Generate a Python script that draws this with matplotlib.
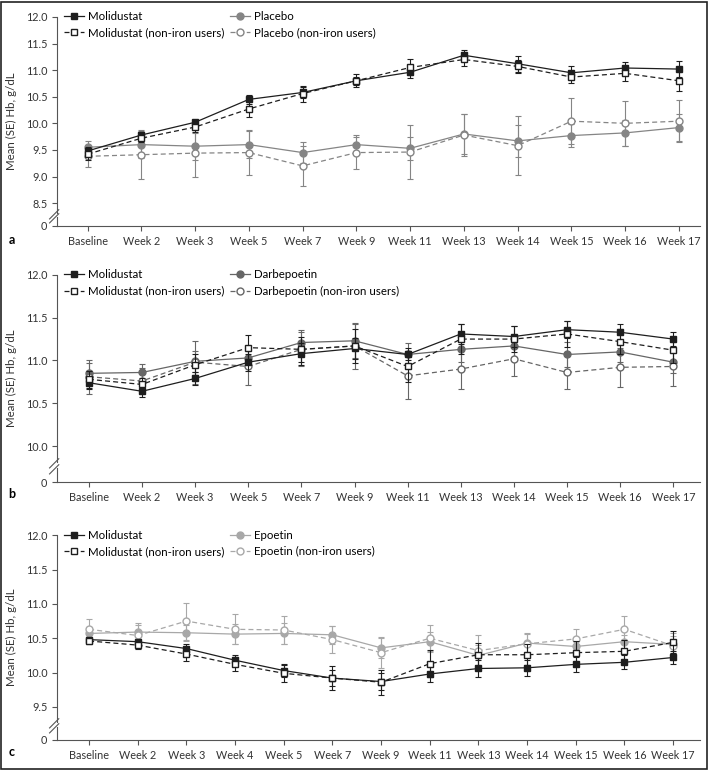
import numpy as np
import matplotlib
matplotlib.use("Agg")
import matplotlib.pyplot as plt
import matplotlib.transforms as mtransforms
from matplotlib.patches import Rectangle
from matplotlib.lines import Line2D

plt.rcParams['font.family'] = ['Lato', 'DejaVu Sans']

# ---- data -------------------------------------------------------------
weeks_ab = ["Baseline", "Week 2", "Week 3", "Week 5", "Week 7", "Week 9", "Week 11",
            "Week 13", "Week 14", "Week 15", "Week 16", "Week 17"]
weeks_c = ["Baseline", "Week 2", "Week 3", "Week 4", "Week 5", "Week 7", "Week 9",
           "Week 11", "Week 13", "Week 14", "Week 15", "Week 16", "Week 17"]

# panel a: molidustat vs placebo
a_moli = [9.48, 9.78, 10.02, 10.45, 10.58, 10.80, 10.96, 11.28, 11.12, 10.95, 11.04, 11.02]
a_moli_se = [0.08, 0.05, 0.05, 0.08, 0.10, 0.08, 0.10, 0.10, 0.15, 0.12, 0.12, 0.15]
a_moli_ni = [9.42, 9.72, 9.93, 10.27, 10.56, 10.80, 11.05, 11.20, 11.07, 10.87, 10.94, 10.80]
a_moli_ni_se = [0.10, 0.08, 0.10, 0.15, 0.15, 0.12, 0.15, 0.12, 0.12, 0.12, 0.14, 0.20]
a_plac = [9.55, 9.60, 9.57, 9.60, 9.45, 9.60, 9.53, 9.80, 9.67, 9.77, 9.82, 9.92]
a_plac_se = [0.12, 0.25, 0.25, 0.25, 0.20, 0.18, 0.22, 0.38, 0.30, 0.22, 0.25, 0.25]
a_plac_ni = [9.38, 9.41, 9.44, 9.45, 9.20, 9.45, 9.46, 9.78, 9.58, 10.04, 10.00, 10.04]
a_plac_ni_se = [0.20, 0.46, 0.45, 0.42, 0.38, 0.30, 0.50, 0.40, 0.55, 0.43, 0.42, 0.40]

# panel b: molidustat vs darbepoetin
b_moli = [10.74, 10.64, 10.79, 10.98, 11.08, 11.14, 11.07, 11.31, 11.28, 11.36, 11.33, 11.25]
b_moli_se = [0.07, 0.07, 0.08, 0.10, 0.13, 0.12, 0.07, 0.12, 0.12, 0.10, 0.10, 0.08]
b_moli_ni = [10.78, 10.72, 10.95, 11.15, 11.13, 11.17, 10.93, 11.25, 11.25, 11.31, 11.22, 11.12]
b_moli_ni_se = [0.10, 0.08, 0.12, 0.15, 0.15, 0.20, 0.18, 0.18, 0.15, 0.15, 0.15, 0.15]
b_darb = [10.85, 10.86, 10.99, 11.03, 11.21, 11.23, 11.07, 11.13, 11.17, 11.07, 11.10, 10.98]
b_darb_se = [0.12, 0.10, 0.12, 0.12, 0.15, 0.20, 0.13, 0.15, 0.13, 0.15, 0.12, 0.13]
b_darb_ni = [10.81, 10.76, 10.98, 10.93, 11.13, 11.17, 10.82, 10.90, 11.02, 10.86, 10.92, 10.93]
b_darb_ni_se = [0.20, 0.15, 0.25, 0.22, 0.20, 0.27, 0.27, 0.23, 0.20, 0.19, 0.23, 0.23]

# panel c: molidustat vs epoetin
c_moli = [10.48, 10.45, 10.35, 10.18, 10.03, 9.92, 9.87, 9.98, 10.06, 10.07, 10.12, 10.15, 10.22]
c_moli_se = [0.04, 0.04, 0.06, 0.07, 0.10, 0.12, 0.12, 0.12, 0.12, 0.12, 0.11, 0.10, 0.09]
c_moli_ni = [10.46, 10.40, 10.27, 10.12, 9.99, 9.92, 9.86, 10.13, 10.26, 10.26, 10.29, 10.31, 10.44]
c_moli_ni_se = [0.05, 0.06, 0.10, 0.10, 0.12, 0.18, 0.18, 0.20, 0.17, 0.15, 0.17, 0.17, 0.16]
c_epo = [10.57, 10.59, 10.58, 10.56, 10.57, 10.55, 10.36, 10.45, 10.25, 10.43, 10.38, 10.45, 10.41]
c_epo_se = [0.10, 0.10, 0.12, 0.15, 0.15, 0.13, 0.15, 0.14, 0.15, 0.13, 0.10, 0.10, 0.12]
c_epo_ni = [10.63, 10.54, 10.75, 10.63, 10.62, 10.48, 10.29, 10.50, 10.32, 10.42, 10.49, 10.63, 10.39]
c_epo_ni_se = [0.15, 0.18, 0.27, 0.22, 0.20, 0.20, 0.23, 0.20, 0.22, 0.15, 0.15, 0.20, 0.18]

DARK = "#1e1e1e"
AXC = "#555555"
DASH = (0, (4, 2.5))


def broken_scale(lo, gap):
    def fwd(y):
        y = np.asarray(y, dtype=float)
        return np.where(y >= lo, y, lo - gap + y * gap / lo)

    def inv(p):
        p = np.asarray(p, dtype=float)
        return np.where(p >= lo, p, (p - (lo - gap)) * lo / gap)
    return fwd, inv


def panel(ax, labels, series, comp_name, comp_color, lo, gap, xpad):
    x = np.arange(len(labels))
    moli, moli_se, moli_ni, moli_ni_se, comp, comp_se, comp_ni, comp_ni_se = series
    kw = dict(capsize=2.3, elinewidth=0.8, capthick=0.8, lw=0.9)
    ax.errorbar(x, comp, yerr=comp_se, color=comp_color, marker="o", ms=5,
                mfc=comp_color, mec=comp_color, zorder=2, **kw)
    ax.errorbar(x, comp_ni, yerr=comp_ni_se, color=comp_color, marker="o", ms=5,
                mfc="white", mec=comp_color, ls=DASH, zorder=2, **kw)
    ax.errorbar(x, moli, yerr=moli_se, color=DARK, marker="s", ms=4.3,
                mfc=DARK, mec=DARK, zorder=3, **kw)
    ax.errorbar(x, moli_ni, yerr=moli_ni_se, color=DARK, marker="s", ms=4.3,
                mfc="white", mec=DARK, ls=DASH, zorder=3, **kw)

    fwd, inv = broken_scale(lo, gap)
    ax.set_yscale("function", functions=(fwd, inv))
    ax.set_ylim(0, 12.0)
    ticks = [0] + list(np.arange(lo, 12.01, 0.5))
    ax.set_yticks(ticks)
    ax.set_yticklabels(["0"] + [f"{t:.1f}" for t in ticks[1:]])
    ax.set_xlim(-xpad[0], len(labels) - 1 + xpad[1])
    ax.set_xticks(x)
    ax.set_xticklabels(labels)
    ax.set_ylabel("Mean (SE) Hb, g/dL", fontsize=8.3, color="#333333", labelpad=6)

    for s in ("top", "right"):
        ax.spines[s].set_visible(False)
    for s in ("left", "bottom"):
        ax.spines[s].set_color(AXC)
        ax.spines[s].set_linewidth(0.8)
    ax.tick_params(colors=AXC, labelcolor="#333333", labelsize=7.8, length=3.5, width=0.8)

    # axis break on the y axis
    hi_b, lo_b = lo * 0.55, lo * 0.38
    ax.spines["left"].set_bounds(hi_b, 12.0)
    trans = mtransforms.blended_transform_factory(ax.transAxes, ax.transData)
    ax.plot([0, 0], [0, lo_b], transform=trans, color=AXC, lw=0.8, clip_on=False)
    for yb in (hi_b, lo_b):
        ax.plot([0], [yb], transform=trans, marker=[(-1, -0.7), (0.2, 0.5)], ms=12,
                mfc="none", mec=AXC, mew=0.8, clip_on=False)

    # legend handles without error-bar caps
    handles = [
        Line2D([], [], color=DARK, marker="s", ms=4.3, mfc=DARK, mec=DARK, lw=0.9),
        Line2D([], [], color=DARK, marker="s", ms=4.3, mfc="white", mec=DARK, lw=0.9, ls=DASH),
        Line2D([], [], color=comp_color, marker="o", ms=5, mfc=comp_color, mec=comp_color, lw=0.9),
        Line2D([], [], color=comp_color, marker="o", ms=5, mfc="white", mec=comp_color, lw=0.9, ls=DASH),
    ]
    names = ["Molidustat", "Molidustat (non-iron users)",
             comp_name, comp_name + " (non-iron users)"]
    ax.legend(handles, names, ncol=2, loc="upper left",
              bbox_to_anchor=(0.0, 1.06), frameon=False, fontsize=8.3,
              handlelength=1.7, handletextpad=0.4, columnspacing=0.5,
              labelspacing=0.45, borderaxespad=0.2)


fig = plt.figure(figsize=(7.08, 7.70), dpi=100)
ax_a = fig.add_axes([0.0805, 0.7065, 0.908, 0.2715])
ax_b = fig.add_axes([0.0805, 0.374, 0.908, 0.269])
ax_c = fig.add_axes([0.0805, 0.039, 0.908, 0.266])

panel(ax_a, weeks_ab, (a_moli, a_moli_se, a_moli_ni, a_moli_ni_se,
                       a_plac, a_plac_se, a_plac_ni, a_plac_ni_se),
      "Placebo", "#858585", 8.5, 0.43, (0.57, 0.39))
panel(ax_b, weeks_ab, (b_moli, b_moli_se, b_moli_ni, b_moli_ni_se,
                       b_darb, b_darb_se, b_darb_ni, b_darb_ni_se),
      "Darbepoetin", "#666666", 10.0, 0.42, (0.6, 0.5))
panel(ax_c, weeks_c, (c_moli, c_moli_se, c_moli_ni, c_moli_ni_se,
                      c_epo, c_epo_se, c_epo_ni, c_epo_ni_se),
      "Epoetin", "#a8a8a8", 9.5, 0.48, (0.66, 0.55))

for letter, yy in (("a", 1 - 240 / 770), ("b", 1 - 494 / 770), ("c", 1 - 752 / 770)):
    fig.text(0.012, yy, letter, fontsize=9, fontweight="bold", va="center", ha="left")

fig.patches.append(Rectangle((0.001, 0.001), 0.997, 0.997, transform=fig.transFigure,
                             fill=False, ec="#222222", lw=1.2))

fig.savefig("out.png", dpi=100)
